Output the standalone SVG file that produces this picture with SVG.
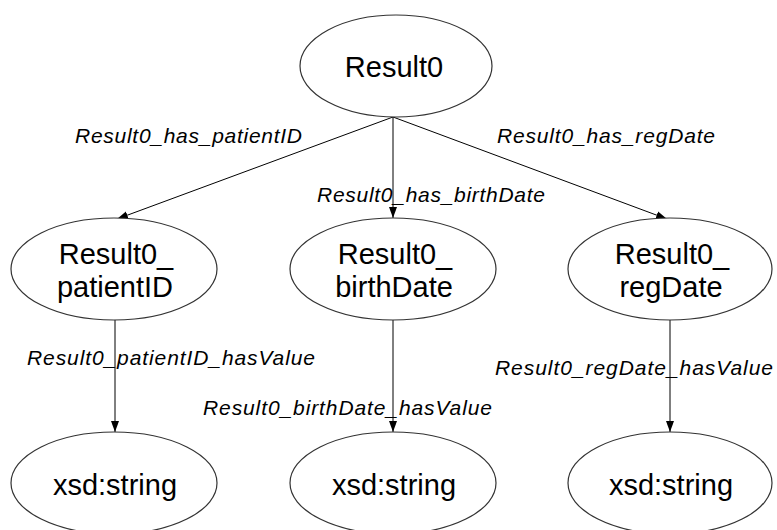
<svg xmlns="http://www.w3.org/2000/svg" width="777" height="530" viewBox="0 0 777 530">
<defs>
<style>
.node ellipse{fill:#fff;stroke:#333;stroke-width:1.2}
.node text{font-family:"Liberation Sans",Arial,sans-serif;font-size:29px;fill:#000;text-anchor:middle}
.edge line{stroke:#000;stroke-width:1}
.lbl{font-family:"Liberation Sans",Arial,sans-serif;font-size:21px;font-style:italic;fill:#000}
</style>
<marker id="arr" markerUnits="userSpaceOnUse" markerWidth="12" markerHeight="10" viewBox="0 0 12 10" refX="11" refY="5" orient="auto">
<path d="M0,1 L11,5 L0,9 Z" fill="#000"/>
</marker>
</defs>
<rect width="777" height="530" fill="#fff"/>
<g id="connectors" class="edge">
<line x1="393" y1="117" x2="117" y2="219" marker-end="url(#arr)"/>
<line x1="393" y1="117" x2="393" y2="218" marker-end="url(#arr)"/>
<line x1="393" y1="117" x2="667" y2="219" marker-end="url(#arr)"/>
<line x1="115" y1="320" x2="115" y2="432" marker-end="url(#arr)"/>
<line x1="393" y1="320" x2="393" y2="432" marker-end="url(#arr)"/>
<line x1="670" y1="320" x2="670" y2="432" marker-end="url(#arr)"/>
<text class="lbl" x="75" y="143" textLength="227" lengthAdjust="spacing">Result0_has_patientID</text>
<text class="lbl" x="317" y="202" textLength="228" lengthAdjust="spacing">Result0_has_birthDate</text>
<text class="lbl" x="497" y="143" textLength="218" lengthAdjust="spacing">Result0_has_regDate</text>
<text class="lbl" x="27" y="365" textLength="288" lengthAdjust="spacing">Result0_patientID_hasValue</text>
<text class="lbl" x="203" y="415" textLength="289" lengthAdjust="spacing">Result0_birthDate_hasValue</text>
<text class="lbl" x="495" y="375" textLength="278" lengthAdjust="spacing">Result0_regDate_hasValue</text>
</g>
<g id="n_result0" class="node">
<ellipse cx="396" cy="66" rx="96" ry="51"/>
<text x="394" y="77">Result0</text>
</g>
<g id="n_patientID" class="node">
<ellipse cx="114" cy="269" rx="103" ry="51"/>
<text x="116" y="264">Result0_</text>
<text x="115" y="297">patientID</text>
</g>
<g id="n_birthDate" class="node">
<ellipse cx="393" cy="269" rx="103" ry="51"/>
<text x="395" y="264">Result0_</text>
<text x="394" y="297">birthDate</text>
</g>
<g id="n_regDate" class="node">
<ellipse cx="670" cy="269" rx="102" ry="51"/>
<text x="672" y="264">Result0_</text>
<text x="671" y="297">regDate</text>
</g>
<g id="n_xsd1" class="node">
<ellipse cx="114" cy="483" rx="103" ry="51"/>
<text x="115" y="495">xsd:string</text>
</g>
<g id="n_xsd2" class="node">
<ellipse cx="393" cy="483" rx="103" ry="51"/>
<text x="394" y="495">xsd:string</text>
</g>
<g id="n_xsd3" class="node">
<ellipse cx="670" cy="483" rx="102" ry="51"/>
<text x="671" y="495">xsd:string</text>
</g>
</svg>
